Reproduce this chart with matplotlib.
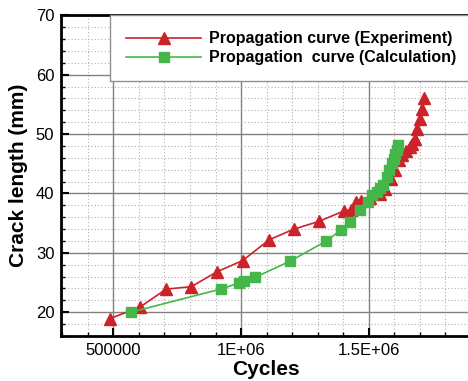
import matplotlib
matplotlib.use('Agg')
import matplotlib.pyplot as plt
from matplotlib.ticker import MultipleLocator, FuncFormatter

plt.rcParams['font.family'] = ['Liberation Sans', 'DejaVu Sans']

# experiment data
exp_cycles = [485000, 605000, 707000, 805000, 905000, 1006000, 1110000, 1207000,
              1305000, 1405000, 1429000, 1451000, 1469000, 1505000, 1544000, 1564000,
              1586000, 1603000, 1618000, 1631000, 1646000, 1660000, 1670000, 1682000,
              1689000, 1699000, 1707000, 1716000]
exp_length = [18.9, 20.9, 23.9, 24.3, 26.8, 28.7, 32.2, 34.0,
              35.3, 37.1, 37.2, 38.6, 38.8, 39.2, 39.9, 40.8,
              42.5, 43.9, 45.6, 46.4, 47.2, 47.9, 48.3, 49.2,
              50.9, 52.5, 54.2, 56.0]

# calculation data
calc_cycles = [568000, 920000, 990000, 1012000, 1056000, 1192000, 1334000, 1393000,
               1427000, 1466000, 1497000, 1514000, 1531000, 1545000, 1557000, 1570000,
               1581000, 1590000, 1597000, 1603000, 1610000, 1616000]
calc_length = [20.0, 23.9, 24.9, 25.3, 25.9, 28.6, 32.0, 33.9,
               35.2, 37.2, 38.6, 39.7, 40.2, 41.0, 41.5, 42.8,
               44.0, 45.1, 45.8, 46.6, 47.3, 48.1]

fig = plt.figure(figsize=(4.68, 3.81), dpi=100)
ax = fig.add_axes([61.3 / 468, 45 / 381, 409.6 / 468, 320.7 / 381])

ax.plot(exp_cycles, exp_length, color='#cc2229', lw=1.2, marker='^', ms=8.5,
        label='Propagation curve (Experiment)')
ax.plot(calc_cycles, calc_length, color='#45b649', lw=1.2, marker='s', ms=6.5,
        label='Propagation  curve (Calculation)')

ax.set_xlim(296000, 1900000)
ax.set_ylim(16, 70)
ax.xaxis.set_major_locator(MultipleLocator(500000))
ax.xaxis.set_minor_locator(MultipleLocator(100000))
ax.yaxis.set_major_locator(MultipleLocator(10))
ax.yaxis.set_minor_locator(MultipleLocator(2))


def fmt_x(v, pos):
    if v == 500000:
        return '500000'
    if v == 1000000:
        return '1E+06'
    if v == 1500000:
        return '1.5E+06'
    return ''


ax.xaxis.set_major_formatter(FuncFormatter(fmt_x))

ax.grid(which='major', color='#808080', lw=1.0, ls='-')
ax.grid(which='minor', color='#b0b0b0', lw=0.8, ls=(0, (1, 2)))
ax.set_axisbelow(True)

for s in ['left', 'top', 'bottom']:
    ax.spines[s].set_linewidth(2)
ax.spines['right'].set_visible(False)

ax.tick_params(which='major', direction='in', length=6, width=1.5, labelsize=12, pad=5)
ax.tick_params(which='minor', direction='in', length=3, width=1)

ax.set_xlabel('Cycles', fontsize=15, fontweight='bold')
ax.set_ylabel('Crack length (mm)', fontsize=15, fontweight='bold')
ax.xaxis.set_label_coords(0.5, -0.075)
ax.yaxis.set_label_coords(-0.082, 0.5)

leg = ax.legend(loc='upper left', bbox_to_anchor=(48.7 / 409.6, 1.0), handlelength=4.7,
                prop={'weight': 'bold', 'size': 11.5}, fancybox=False, framealpha=1,
                edgecolor='#909090', borderaxespad=0, labelspacing=0.25,
                borderpad=1.0, handletextpad=0.5)
leg.get_frame().set_linewidth(1.0)

fig.savefig('out.png', dpi=100)
